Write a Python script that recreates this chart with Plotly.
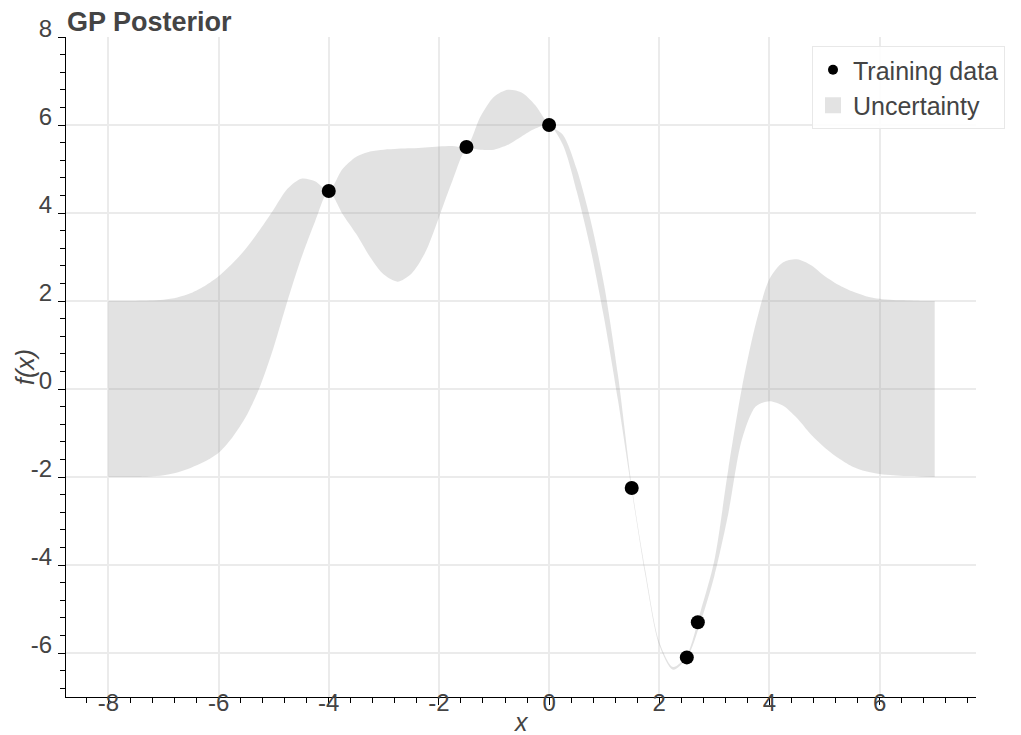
import plotly.graph_objects as go

# ---- data ----
band_x = [-8.0, -7.75, -7.5, -7.25, -7.0, -6.75, -6.5, -6.25, -6.0, -5.75, -5.5, -5.25,
          -5.0, -4.75, -4.5, -4.25, -4.0, -3.75, -3.5, -3.25, -3.0, -2.75, -2.5, -2.25,
          -2.0, -1.75, -1.5, -1.25, -1.0, -0.75, -0.5, -0.25, 0.0, 0.25, 0.5, 0.75,
          1.0, 1.25, 1.5, 1.75, 2.0, 2.25, 2.5, 2.75, 3.0, 3.25, 3.5, 3.75,
          4.0, 4.25, 4.5, 4.75, 5.0, 5.25, 5.5, 5.75, 6.0, 6.25, 6.5, 6.75, 7.0]

band_upper = [2.00, 2.00, 2.00, 2.01, 2.03, 2.08, 2.18, 2.34, 2.56, 2.85, 3.20, 3.62,
              4.08, 4.55, 4.78, 4.72, 4.50, 5.00, 5.28, 5.40, 5.44, 5.46, 5.47, 5.49,
              5.51, 5.52, 5.50, 6.18, 6.64, 6.80, 6.74, 6.45, 6.00, 5.78, 5.00, 3.85,
              2.35, 0.32, -2.20, -4.15, -5.75, -6.32, -6.05, -5.05, -3.90, -1.85, 0.02, 1.47,
              2.50, 2.88, 2.95, 2.82, 2.57, 2.37, 2.22, 2.11, 2.05, 2.02, 2.01, 2.00, 2.00]

band_lower = [-2.00, -2.00, -2.00, -1.99, -1.96, -1.90, -1.79, -1.65, -1.45, -1.10, -0.62, 0.05,
              0.95, 2.00, 2.97, 3.80, 4.50, 3.98, 3.52, 3.00, 2.60, 2.44, 2.62, 3.10,
              3.90, 4.75, 5.45, 5.44, 5.44, 5.55, 5.74, 5.92, 6.00, 5.55, 4.50, 3.20,
              1.60, -0.25, -2.30, -4.25, -5.82, -6.38, -6.12, -5.30, -4.25, -2.85, -1.15, -0.40,
              -0.28, -0.38, -0.66, -1.03, -1.33, -1.57, -1.76, -1.87, -1.93, -1.96, -1.98, -1.99, -2.00]

train_x = [-4.0, -1.5, 0.0, 1.5, 2.5, 2.7]
train_y = [4.5, 5.5, 6.0, -2.25, -6.1, -5.3]

x_ticks = [-8, -6, -4, -2, 0, 2, 4, 6]
x_tick_labels = ["-8", "-6", "-4", "-2", "0", "2", "4", "6"]
y_ticks = [-6, -4, -2, 0, 2, 4, 6, 8]
y_tick_labels = ["-6", "-4", "-2", "0", "2", "4", "6", "8"]

FONT = "Liberation Sans, Arial, Helvetica, sans-serif"
TXT = "#444444"
BAND = "rgba(140,140,140,0.25)"

fig = go.Figure()

# uncertainty band: lower edge, then upper edge filled to it
fig.add_trace(go.Scatter(x=band_x, y=band_lower, mode="lines",
                         line=dict(width=0, shape="spline", smoothing=0.8),
                         showlegend=False, hoverinfo="skip"))
fig.add_trace(go.Scatter(x=band_x, y=band_upper, mode="lines", fill="tonexty",
                         fillcolor=BAND, line=dict(width=0, shape="spline", smoothing=0.8),
                         showlegend=False, name="Uncertainty"))

# training data
fig.add_trace(go.Scatter(x=train_x, y=train_y, mode="markers",
                         marker=dict(color="black", size=14),
                         showlegend=False, name="Training data"))

# legend entries
fig.add_trace(go.Scatter(x=[None], y=[None], mode="markers", name="Training data",
                         marker=dict(color="black", size=10)))
fig.add_trace(go.Scatter(x=[None], y=[None], mode="markers", name="Uncertainty",
                         marker=dict(color="#e3e3e3", size=20, symbol="square")))

axis_common = dict(
    automargin=False,
    showline=True, linecolor="black", linewidth=1,
    showgrid=True, gridcolor="#ebebeb", gridwidth=2,
    zeroline=False, ticks="outside", ticklen=7, tickwidth=1, tickcolor="black",
    tickfont=dict(family=FONT, size=24, color=TXT),
    minor=dict(tickmode="linear", dtick=0.4, tick0=0, ticks="outside", ticklen=5,
               tickcolor="black", tickwidth=1, showgrid=False),
)

fig.update_xaxes(range=[-8.77, 7.75], tickmode="array", tickvals=x_ticks,
                 ticktext=x_tick_labels, ticklabelstandoff=-23, **axis_common)
fig.update_yaxes(range=[-7, 8], tickmode="array", tickvals=y_ticks,
                 ticktext=y_tick_labels, ticklabelstandoff=1, ticklabelshift=-8,
                 **axis_common)

# the page body adds an 8px offset, margins compensate for it
fig.update_layout(
    width=1021, height=735,
    margin=dict(l=58, r=53, t=29, b=46, autoexpand=False),
    paper_bgcolor="white", plot_bgcolor="white",
    font=dict(family=FONT, color=TXT),
    title=dict(text="<b>GP Posterior</b>", font=dict(family=FONT, size=27, color=TXT),
               x=59 / 1021, xanchor="left", xref="container",
               y=1 - 14 / 735, yanchor="middle", yref="container", automargin=False),
    legend=dict(x=(812 - 66) / 910, xanchor="left", y=(697 - 46) / 660, yanchor="top",
                bgcolor="rgba(255,255,255,0.9)", bordercolor="#e8e8e8", borderwidth=1,
                font=dict(family=FONT, size=25, color=TXT), itemsizing="trace",
                traceorder="normal", tracegroupgap=0),
    annotations=[
        dict(text="<i>x</i>", xref="paper", yref="paper", x=0.5, y=(697 - 722) / 660,
             xanchor="center", yanchor="middle", showarrow=False,
             font=dict(family=FONT, size=25, color=TXT)),
        dict(text="<i>f(x)</i>", xref="paper", yref="paper", x=(25 - 66) / 910, y=0.5,
             xanchor="center", yanchor="middle", showarrow=False, textangle=-90,
             font=dict(family=FONT, size=25, color=TXT)),
    ],
)

fig.write_html("out.html")
